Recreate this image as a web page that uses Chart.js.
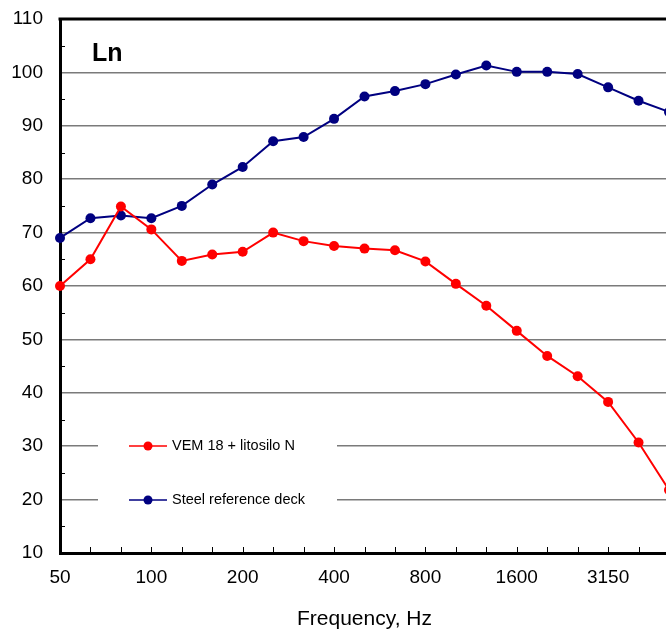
<!DOCTYPE html>
<html>
<head>
<meta charset="utf-8">
<title>Ln</title>
<script src="https://cdn.jsdelivr.net/npm/chart.js@4.4.1/dist/chart.umd.min.js"></script>
<style>
    html, body { margin: 0; padding: 0; overflow: hidden; background: #fff; }
    #wrap { width: 680px; height: 631px; }
</style>
</head>
<body>
<div id="wrap"><canvas id="lnChart" width="680" height="631"></canvas></div>
<script>
// ============================================
// DATA
// ============================================

// One-third octave band centre frequencies, Hz
const frequencies = ['50', '63', '80', '100', '125', '160', '200', '250', '315', '400',
    '500', '630', '800', '1000', '1250', '1600', '2000', '2500', '3150', '4000', '5000'];

// Only every third band gets a printed label
const shownLabels = ['50', '100', '200', '400', '800', '1600', '3150'];

// Ln values, dB
const vemLitosilo = [60.0, 65.0, 74.9, 70.6, 64.7, 65.9, 66.4, 70.0, 68.4, 67.5,
    67.0, 66.7, 64.6, 60.4, 56.3, 51.6, 46.9, 43.1, 38.3, 30.7, 21.8];
const steelDeck = [69.0, 72.7, 73.2, 72.7, 75.0, 79.0, 82.3, 87.1, 87.9, 91.3,
    95.5, 96.5, 97.8, 99.6, 101.3, 100.1, 100.1, 99.7, 97.2, 94.7, 92.6];

const seriesNames = ['VEM 18 + litosilo N', 'Steel reference deck'];

// ============================================
// HELPERS
// ============================================

const FONT = '"Liberation Sans", Arial, Helvetica, sans-serif';

/**
 * Draws the frame pieces Chart.js has no option for:
 * the thick top border, inward tick marks and the "Ln" title
 */
const framePlugin = {
    id: 'frame',
    afterDraw(chart) {
        const { ctx, chartArea, scales } = chart;
        ctx.save();

        // thick top border
        ctx.strokeStyle = '#000';
        ctx.lineWidth = 3;
        ctx.beginPath();
        ctx.moveTo(chartArea.left - 1.5, chartArea.top);
        ctx.lineTo(chartArea.right + 1.5, chartArea.top);
        ctx.stroke();

        // x ticks pointing up into the plot
        ctx.lineWidth = 1;
        ctx.beginPath();
        frequencies.forEach((f, i) => {
            const x = Math.round(scales.x.getPixelForValue(i)) + 0.5;
            ctx.moveTo(x, chartArea.bottom);
            ctx.lineTo(x, chartArea.bottom - 6);
        });
        // minor y ticks every 5 dB
        for (let v = 15; v < 110; v += 10) {
            const y = Math.round(scales.y.getPixelForValue(v)) + 0.5;
            ctx.moveTo(chartArea.left, y);
            ctx.lineTo(chartArea.left + 5, y);
        }
        ctx.stroke();

        // "Ln" label in the upper-left corner
        ctx.fillStyle = '#000';
        ctx.font = 'bold 25px ' + FONT;
        ctx.textBaseline = 'alphabetic';
        ctx.fillText('Ln', chartArea.left + 32, chartArea.top + 42);
        ctx.restore();
    }
};

/**
 * Legend drawn inside the plot on a white box, so it hides the grid lines
 */
const boxLegendPlugin = {
    id: 'boxLegend',
    beforeDatasetsDraw(chart) {
        const { ctx, chartArea } = chart;
        const left = chartArea.left + 38;
        const top = chartArea.bottom - 140;
        ctx.save();
        ctx.fillStyle = '#fff';
        ctx.fillRect(left, top, 239, 128);

        chart.data.datasets.forEach((ds, i) => {
            const y = top + 33 + i * 54;
            ctx.strokeStyle = ds.borderColor;
            ctx.lineWidth = 1.5;
            ctx.beginPath();
            ctx.moveTo(left + 31, y);
            ctx.lineTo(left + 69, y);
            ctx.stroke();
            ctx.fillStyle = ds.backgroundColor;
            ctx.beginPath();
            ctx.arc(left + 50, y, 4.5, 0, Math.PI * 2);
            ctx.fill();
            ctx.fillStyle = '#000';
            ctx.font = '14.5px ' + FONT;
            ctx.textBaseline = 'middle';
            ctx.fillText(ds.label, left + 74, y);
        });
        ctx.restore();
    }
};

// ============================================
// CHART
// ============================================

document.addEventListener('DOMContentLoaded', () => {
    const ctx = document.getElementById('lnChart').getContext('2d');

    new Chart(ctx, {
        type: 'line',
        data: {
            labels: frequencies,
            datasets: [{
                label: seriesNames[0],
                data: vemLitosilo,
                borderColor: '#ff0000',
                backgroundColor: '#ff0000',
                borderWidth: 2,
                pointRadius: 5,
                pointBorderWidth: 0
            }, {
                label: seriesNames[1],
                data: steelDeck,
                borderColor: '#000080',
                backgroundColor: '#000080',
                borderWidth: 2,
                pointRadius: 5,
                pointBorderWidth: 0
            }]
        },
        options: {
            responsive: false,
            animation: false,
            layout: { padding: { top: 19, right: 11, left: 0, bottom: 0 } },
            plugins: {
                legend: { display: false },
                tooltip: { enabled: false }
            },
            scales: {
                x: {
                    offset: false,
                    grid: { display: false, drawTicks: false },
                    border: { display: true, color: '#000', width: 3 },
                    ticks: {
                        autoSkip: false,
                        maxRotation: 0,
                        padding: 13,
                        color: '#000',
                        font: { family: FONT, size: 19 },
                        callback: function (value) {
                            const f = frequencies[value];
                            return shownLabels.includes(f) ? f : '';
                        }
                    },
                    title: {
                        display: true,
                        text: 'Frequency, Hz',
                        color: '#000',
                        font: { family: FONT, size: 21 },
                        padding: { top: 0, bottom: -1 }
                    },
                    afterFit: (scale) => {
                        scale.height = 78;
                        scale.paddingLeft = 0;
                        scale.paddingRight = 0;
                    }
                },
                y: {
                    min: 10,
                    max: 110,
                    ticks: {
                        stepSize: 10,
                        padding: 17,
                        color: '#000',
                        font: { family: FONT, size: 19 }
                    },
                    grid: { color: '#7a7a7a', lineWidth: 1.5, drawTicks: false },
                    border: { display: true, color: '#000', width: 3 },
                    afterFit: (scale) => {
                        scale.width = 60;
                        scale.paddingTop = 0;
                        scale.paddingBottom = 0;
                    }
                }
            }
        },
        plugins: [boxLegendPlugin, framePlugin]
    });
});
</script>
</body>
</html>
